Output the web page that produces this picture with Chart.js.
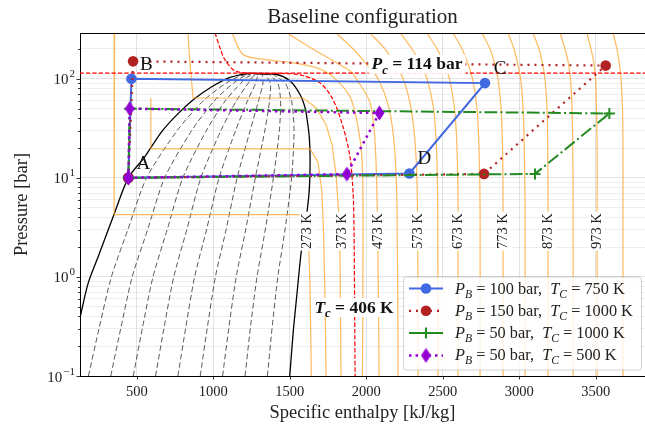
<!DOCTYPE html>
<html><head><meta charset="utf-8">
<script src="https://cdn.jsdelivr.net/npm/chart.js@4.4.1/dist/chart.umd.min.js"></script>
<style>html,body{margin:0;padding:0;background:#fff;overflow:hidden}</style>
</head><body>
<canvas id="c" width="645" height="428"></canvas>
<script>
// ---------- axis / tick data ----------
const xMin = 129, xMax = 3822;
const yMin = 0.1, yMax = 290;
const xTickValues = [500,1000,1500,2000,2500,3000,3500];
const yDecades = [0.1,1,10,100];
const yDecadeExp = ['−1','0','1','2'];

// ---------- saturation dome ----------
const domeLiqH = [38,130,182,247,345,445,552,661,770,879,988,1097,1206,1252];
const domeLiqP = [0.1,0.395,0.86,1.59,4.02,10,16.3,29,44.5,63.2,82.7,101.6,112,113.5];
const domeVapH = [1252,1415,1502,1567,1600,1615,1628,1633,1626,1600,1576,1543,1522,1500];
const domeVapP = [113.5,110.5,94.8,69.5,51.1,37.5,25.5,15.1,7.0,3.19,1.86,0.582,0.271,0.1];

// ---------- quality lines (x = 0.1 ... 0.9) ----------
const qualityP = [0.1,0.3,1,3,10,30,60,90,105,110,113.5];
const q10H = [184,253,334,442,564,764,935,1082,1164,1209,1252];
const q20H = [330,395,470,571,682,859,1007,1130,1195,1232,1252];
const q30H = [477,536,606,699,801,955,1079,1179,1226,1256,1252];
const q40H = [623,677,742,827,919,1050,1151,1228,1257,1279,1252];
const q50H = [769,819,878,956,1038,1146,1224,1277,1289,1302,1252];
const q60H = [915,960,1014,1084,1156,1241,1296,1325,1320,1325,1252];
const q70H = [1061,1101,1150,1212,1275,1337,1368,1374,1351,1348,1252];
const q80H = [1208,1242,1286,1340,1393,1432,1440,1423,1382,1372,1252];
const q90H = [1354,1384,1422,1469,1512,1528,1512,1471,1413,1395,1252];

// ---------- isotherms ----------
const iso273H = [355,352,1609,1623,1633,1641];
const iso273P = [290,4.25,4.25,2.34,0.735,0.1];
const iso323H = [592,592,1633,1685,1709,1720,1731,1737];
const iso323P = [64,19.6,19.6,14.4,7.51,3.19,0.58,0.1];
const iso373H = [835,846,868,1587,1672,1737,1776,1803,1819,1829,1835];
const iso373P = [290,155,64,64,51.1,34.4,21.7,10.6,4.7,1.47,0.1];
const isoCritH = [1012,1044,1077,1142,1254,1437,1567,1698,1783,1848,1894,1914,1920,1927];
const isoCritP = [290,205,155,120,114,113.3,109.7,91,61.5,32.9,16.2,7.0,3.17,0.1];
const iso423H = [1123,1195,1350,1522,1677,1783,1894,1946,1973,1979,1975];
const iso423P = [290,175.7,156,145,129,104.7,65.9,32.9,15,3.17,0.1];
const iso473H = [1482,1639,1783,1894,1940,2025,2058,2074,2084];
const iso473P = [290,205,152,120,97.7,57.2,22.6,3.17,0.1];
const superP = [290,200,150,100,50,20,5,0.1];
const iso523H = [1803,1914,1986,2077,2149,2185,2201,2208];
const iso573H = [2025,2123,2175,2241,2293,2322,2335,2339];
const iso623H = [2221,2299,2345,2397,2440,2459,2467,2469];
const iso673H = [2397,2463,2502,2544,2577,2593,2600,2600];
const iso723H = [2567,2626,2659,2695,2724,2737,2744,2744];
const iso773H = [2757,2809,2835,2861,2881,2891,2894,2894];
const iso823H = [2927,2966,2986,3009,3025,3033,3038,3038];
const iso873H = [3090,3129,3149,3168,3182,3186,3188,3188];
const iso923H = [3267,3299,3319,3335,3345,3350,3352,3352];
const iso973H = [3443,3469,3486,3499,3505,3509,3509,3509];
const iso1023H = [3613,3639,3652,3665,3675,3678,3678,3678];
const isoLabelText = ['273 K','373 K','473 K','573 K','673 K','773 K','873 K','973 K'];
const isoLabelH = [1613,1842,2077,2339,2600,2894,3188,3509];
const isoLabelP = 2.9;

// ---------- critical values ----------
const criticalP = 114;
const criticalT = 406;
const pcLineH = [0,4000];
const pcLabelH = 2332, pcLabelP = 141.6;
const tcLabelH = 1920, tcLabelP = 0.497;

// ---------- cycles (A, B, C, D, A) ----------
const pointNames = ['A','B','C','D'];
const blueH = [445,465,2776,2282,445];
const blueP = [10,100,90.5,11.07,10];
const redH = [445,476,3565,2770,445];
const redP = [10,150,136,10.97,10];
const greenH = [445,454,3589,3103,445];
const greenP = [10,50,44.7,10.97,10];
const purpleH = [445,454,2086,1873,445];
const purpleP = [10,50,45.2,10.9,10];
const legendPB = [100,150,50,50];
const legendTC = [750,1000,1000,500];

// ---------- build ----------
const FONT = '"Liberation Serif","DejaVu Serif",serif';
const pts = (H,P) => H.map((h,i)=>({x:h, y:Array.isArray(P)?P[i]:P}));

const diamond = document.createElement('canvas');
diamond.width = 11; diamond.height = 16;
(function(){const g=diamond.getContext('2d');g.fillStyle='#9400d3';g.beginPath();
 g.moveTo(5.5,0.5);g.lineTo(10.5,8);g.lineTo(5.5,15.5);g.lineTo(0.5,8);g.closePath();g.fill();})();

const ORANGE = 'rgba(255,160,30,0.72)';
const ds = [];
function addLine(data, color, width, dash, order, tension){
  ds.push({data, borderColor:color, borderWidth:width, borderDash:dash||[], pointRadius:0,
    showLine:true, fill:false, order, tension:tension||0});
}
// quality lines
[q10H,q20H,q30H,q40H,q50H,q60H,q70H,q80H,q90H].forEach(q=>addLine(pts(q,qualityP),'rgba(0,0,0,0.65)',1,[5.5,3],60,0.25));
// dome
addLine(pts(domeLiqH,domeLiqP),'#000',1.3,[],50,0.3);
addLine(pts(domeVapH,domeVapP),'#000',1.3,[],50,0.3);
// isotherms
addLine(pts(iso273H,iso273P),ORANGE,1.2,[],40,0);
addLine(pts(iso323H,iso323P),ORANGE,1.2,[],40,0);
addLine(pts(iso373H,iso373P),ORANGE,1.2,[],40,0);
addLine(pts(iso423H,iso423P),ORANGE,1.2,[],40,0.3);
addLine(pts(iso473H,iso473P),ORANGE,1.2,[],40,0.3);
[iso523H,iso573H,iso623H,iso673H,iso723H,iso773H,iso823H,iso873H,iso923H,iso973H,iso1023H]
  .forEach(h=>addLine(pts(h,superP),ORANGE,1.2,[],40,0.3));
// critical lines
addLine(pts(isoCritH,isoCritP),'#ff0000',1.2,[4.4,2],30,0.3);
addLine(pts(pcLineH,criticalP),'#ff0000',1.2,[4.4,2],30,0);

const cycles = [
  {H:blueH,P:blueP,color:'#4169e1',width:2,dash:[],style:'circle',r:5.3,order:4},
  {H:redH,P:redP,color:'#b22222',width:2.2,dash:[2,5],style:'circle',r:5.3,order:3},
  {H:greenH,P:greenP,color:'#228b22',width:2,dash:[12.8,3.2,2,3.2],style:'cross',r:5.5,order:2},
  {H:purpleH,P:purpleP,color:'#9400d3',width:2.5,dash:[2.5,4],style:diamond,r:8,order:1},
];
cycles.forEach(c=>{
  ds.push({data:pts(c.H,c.P), borderColor:c.color, backgroundColor:c.color, borderWidth:c.width,
    borderDash:c.dash, showLine:true, fill:false, order:c.order, tension:0,
    pointStyle:c.style, pointRadius:c.r, pointBorderWidth:c.style==='cross'?2:0,
    pointBorderColor:c.color, pointBackgroundColor:c.color});
});

// y ticks: 1..9 x decade
const yAllTicks = [];
yDecades.forEach(d=>{for(let m=1;m<=9;m++){const v=+(m*d).toPrecision(3); if(v<=yMax) yAllTicks.push(v);}});

function drawParts(ctx, x, y, parts, size, weight, measureOnly){
  let cx = x;
  parts.forEach(p=>{
    const s = p.sub ? size*0.72 : size;
    ctx.font = `${p.it?'italic ':''}${weight} ${s}px ${FONT}`;
    if(!measureOnly) ctx.fillText(p.t, cx, y + (p.sub ? size*0.25 : 0));
    cx += ctx.measureText(p.t).width;
  });
  return cx - x;
}

const overlay = {
  id:'overlay',
  afterDraw(chart){
    const ctx = chart.ctx, xs = chart.scales.x, ys = chart.scales.y, ca = chart.chartArea;
    ctx.save();
    ctx.textBaseline = 'alphabetic';
    // isotherm labels
    isoLabelText.forEach((t,i)=>{
      const px = xs.getPixelForValue(isoLabelH[i]), py = ys.getPixelForValue(isoLabelP);
      ctx.save(); ctx.translate(px,py); ctx.rotate(-Math.PI/2);
      ctx.font = `14.5px ${FONT}`;
      const w = ctx.measureText(t).width;
      ctx.fillStyle = '#fff'; ctx.fillRect(-w/2-1.5,-7.5,w+3,15);
      ctx.fillStyle = '#222'; ctx.textAlign='center'; ctx.textBaseline='middle';
      ctx.fillText(t,0,0.5);
      ctx.restore();
    });
    // Pc / Tc labels
    function boxedMath(parts, h, p){
      const px = xs.getPixelForValue(h), py = ys.getPixelForValue(p);
      ctx.textAlign='left';
      const w = drawParts(ctx,0,0,parts,17.5,'bold',true);
      ctx.fillStyle='#fff'; ctx.fillRect(px-w/2-3, py-9, w+6, 19);
      ctx.fillStyle='#111';
      drawParts(ctx, px-w/2, py+5.5, parts, 17.5, 'bold');
    }
    boxedMath([{t:'P',it:1},{t:'c',it:1,sub:1},{t:' = '+criticalP+' bar'}], pcLabelH, pcLabelP);
    boxedMath([{t:'T',it:1},{t:'c',it:1,sub:1},{t:' = '+criticalT+' K'}], tcLabelH, tcLabelP);
    // point labels
    ctx.font = `19px ${FONT}`; ctx.fillStyle='#111'; ctx.textAlign='center'; ctx.textBaseline='middle';
    pointNames.forEach((n,i)=>{
      const px = xs.getPixelForValue(blueH[i]), py = ys.getPixelForValue(blueP[i]);
      ctx.fillText(n, px+15, py-14);
    });
    // frame
    ctx.strokeStyle='#000'; ctx.lineWidth=1;
    ctx.beginPath(); ctx.moveTo(ca.left, ca.top+0.5); ctx.lineTo(ca.right, ca.top+0.5); ctx.stroke();
    // tick marks
    ctx.lineWidth=0.8;
    xTickValues.forEach(v=>{const px=Math.round(xs.getPixelForValue(v))+0.5;
      ctx.beginPath(); ctx.moveTo(px,ca.bottom); ctx.lineTo(px,ca.bottom+3.5); ctx.stroke();});
    yAllTicks.forEach(v=>{const py=Math.round(ys.getPixelForValue(v))+0.5;
      const major = yDecades.includes(v);
      ctx.beginPath(); ctx.moveTo(ca.left,py); ctx.lineTo(ca.left-(major?3.5:2),py); ctx.stroke();});
    // x tick labels
    ctx.fillStyle='#222'; ctx.textAlign='center'; ctx.textBaseline='middle';
    ctx.font = `14.5px ${FONT}`;
    xTickValues.forEach(v=>{ctx.fillText(String(v), xs.getPixelForValue(v), ca.bottom+16);});
    // y tick labels
    ctx.textBaseline='alphabetic'; ctx.textAlign='left';
    yDecades.forEach((v,i)=>{
      const py = ys.getPixelForValue(v);
      ctx.font = `11px ${FONT}`;
      const ew = ctx.measureText(yDecadeExp[i]).width;
      ctx.font = `15px ${FONT}`;
      const bw = ctx.measureText('10').width;
      const right = ca.left - 5;
      ctx.fillText('10', right-ew-bw-1, py+5.5);
      ctx.font = `11px ${FONT}`;
      ctx.fillText(yDecadeExp[i], right-ew, py-1.5);
    });
    // titles
    ctx.textAlign='center'; ctx.textBaseline='middle'; ctx.fillStyle='#222';
    ctx.font = `21px ${FONT}`;
    ctx.fillText('Baseline configuration', (ca.left+ca.right)/2, 17);
    ctx.font = `18.5px ${FONT}`;
    ctx.fillText('Specific enthalpy [kJ/kg]', (ca.left+ca.right)/2, 413);
    ctx.save(); ctx.translate(22,(ca.top+ca.bottom)/2); ctx.rotate(-Math.PI/2);
    ctx.fillText('Pressure [bar]',0,0); ctx.restore();
    // legend
    const lx=403.5, ly=277, lw=238, lh=93;
    ctx.beginPath();
    if(ctx.roundRect) ctx.roundRect(lx,ly,lw,lh,3); else ctx.rect(lx,ly,lw,lh);
    ctx.fillStyle='rgba(255,255,255,0.82)'; ctx.fill();
    ctx.strokeStyle='rgba(0,0,0,0.17)'; ctx.lineWidth=1; ctx.stroke();
    cycles.forEach((c,i)=>{
      const yy = 288.5 + i*22.3;
      ctx.save();
      ctx.strokeStyle=c.color; ctx.lineWidth=c.width; ctx.setLineDash(c.dash);
      ctx.beginPath(); ctx.moveTo(409,yy); ctx.lineTo(443,yy); ctx.stroke();
      ctx.setLineDash([]);
      ctx.fillStyle=c.color;
      if(c.style==='circle'){ctx.beginPath(); ctx.arc(426,yy,c.r,0,Math.PI*2); ctx.fill();}
      else if(c.style==='cross'){ctx.lineWidth=2; ctx.beginPath(); ctx.moveTo(426-5.5,yy); ctx.lineTo(426+5.5,yy);
        ctx.moveTo(426,yy-5.5); ctx.lineTo(426,yy+5.5); ctx.stroke();}
      else ctx.drawImage(diamond,426-diamond.width/2,yy-diamond.height/2);
      ctx.restore();
      ctx.fillStyle='#222'; ctx.textAlign='left'; ctx.textBaseline='alphabetic';
      drawParts(ctx, 455, yy+5, [
        {t:'P',it:1},{t:'B',it:1,sub:1},{t:' = '+legendPB[i]+' bar,  '},
        {t:'T',it:1},{t:'C',it:1,sub:1},{t:' = '+legendTC[i]+' K'}], 16.3, 'normal');
    });
    ctx.restore();
  }
};

new Chart(document.getElementById('c'), {
  type:'scatter',
  data:{datasets:ds},
  options:{
    responsive:false, animation:false, devicePixelRatio:1, events:[],
    layout:{autoPadding:false, padding:{top:33,left:0,right:0,bottom:0}},
    plugins:{legend:{display:false}, tooltip:{enabled:false}, title:{display:false}},
    scales:{
      x:{type:'linear', min:xMin, max:xMax,
        afterBuildTicks:s=>{s.ticks = xTickValues.map(v=>({value:v}));},
        afterFit:s=>{s.height = 52;},
        ticks:{display:false},
        grid:{color:'rgba(0,0,0,0.11)', drawTicks:false},
        border:{color:'#000', width:1}},
      y:{type:'logarithmic', min:yMin, max:yMax,
        afterBuildTicks:s=>{s.ticks = yAllTicks.map(v=>({value:v}));},
        afterFit:s=>{s.width = 80;},
        ticks:{display:false},
        grid:{drawTicks:false, color:ctx=>yDecades.includes(ctx.tick && ctx.tick.value)?'rgba(0,0,0,0.11)':'rgba(0,0,0,0.065)'},
        border:{color:'#000', width:1}}
    }
  },
  plugins:[overlay]
});
</script>
</body></html>
